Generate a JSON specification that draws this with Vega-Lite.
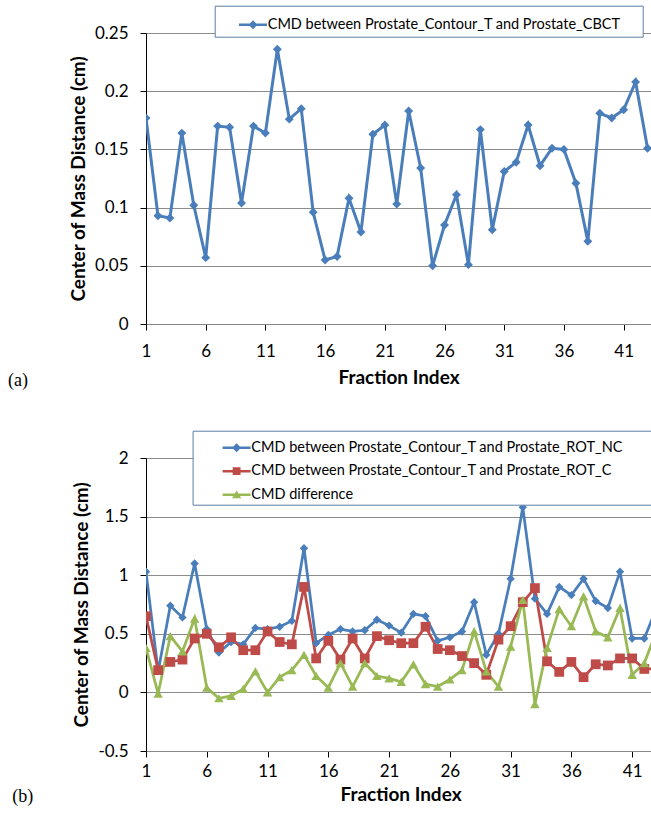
{
  "$schema": "https://vega.github.io/schema/vega-lite/v6.json",
  "background": "white",
  "padding": {"left": 8, "top": 5, "right": 0, "bottom": 0},
  "spacing": 40,
  "config": {
    "view": {"stroke": null},
    "font": "Lato",
    "axis": {
      "labelFont": "Lato", "titleFont": "Lato", "titleFontWeight": "bold",
      "titleColor": "#000", "labelColor": "#000", "domainColor": "#000", "domainWidth": 1,
      "tickColor": "#000", "tickSize": 6, "gridColor": "#8c8c8c", "gridWidth": 1,
      "labelFontSize": 17, "titleFontSize": 19, "labelFlush": false, "labelOverlap": false
    },
    "legend": {
      "orient": "none", "strokeColor": "#5b7fa6", "fillColor": "white",
      "labelFont": "Lato", "labelFontSize": 14.5, "labelColor": "#000", "labelLimit": 600,
      "symbolSize": 784
    }
  },
  "resolve": {"scale": {"color": "independent"}, "legend": {"color": "independent"}},
  "vconcat": [
    {
      "width": 505,
      "height": 291,
      "title": {"text": "(a)", "orient": "bottom", "anchor": "start", "frame": "group", "font": "Liberation Serif", "fontSize": 18, "fontWeight": "normal", "color": "#000", "dx": -138, "dy": -15.5, "offset": 0},
      "data": {"values": [
        {"i": 1, "v": 0.177}, {"i": 2, "v": 0.093}, {"i": 3, "v": 0.091}, {"i": 4, "v": 0.164},
        {"i": 5, "v": 0.102}, {"i": 6, "v": 0.057}, {"i": 7, "v": 0.170}, {"i": 8, "v": 0.169},
        {"i": 9, "v": 0.104}, {"i": 10, "v": 0.170}, {"i": 11, "v": 0.164}, {"i": 12, "v": 0.236},
        {"i": 13, "v": 0.176}, {"i": 14, "v": 0.185}, {"i": 15, "v": 0.096}, {"i": 16, "v": 0.055},
        {"i": 17, "v": 0.058}, {"i": 18, "v": 0.108}, {"i": 19, "v": 0.079}, {"i": 20, "v": 0.163},
        {"i": 21, "v": 0.171}, {"i": 22, "v": 0.103}, {"i": 23, "v": 0.183}, {"i": 24, "v": 0.134},
        {"i": 25, "v": 0.050}, {"i": 26, "v": 0.085}, {"i": 27, "v": 0.111}, {"i": 28, "v": 0.051},
        {"i": 29, "v": 0.167}, {"i": 30, "v": 0.081}, {"i": 31, "v": 0.131}, {"i": 32, "v": 0.139},
        {"i": 33, "v": 0.171}, {"i": 34, "v": 0.136}, {"i": 35, "v": 0.151}, {"i": 36, "v": 0.150},
        {"i": 37, "v": 0.121}, {"i": 38, "v": 0.071}, {"i": 39, "v": 0.181}, {"i": 40, "v": 0.177},
        {"i": 41, "v": 0.184}, {"i": 42, "v": 0.208}, {"i": 43, "v": 0.151}
      ]},
      "encoding": {
        "x": {"field": "i", "type": "quantitative",
          "scale": {"domain": [1, 43.29], "nice": false, "zero": false},
          "axis": {"values": [1, 6, 11, 16, 21, 26, 31, 36, 41], "grid": false, "title": "Fraction Index",
            "labelPadding": 13, "titlePadding": 9, "domainColor": "#868686", "format": "d"}},
        "y": {"field": "v", "type": "quantitative",
          "scale": {"domain": [0, 0.25], "nice": false, "zero": false},
          "axis": {"values": [0, 0.05, 0.1, 0.15, 0.2, 0.25], "labelExpr": "'' + datum.value", "grid": true,
            "title": "Center of Mass Distance (cm)", "labelPadding": 12, "titlePadding": 6}}
      },
      "layer": [
        {
          "mark": {"type": "line", "strokeWidth": 3, "clip": true},
          "encoding": {
            "color": {"datum": "CMD between Prostate_Contour_T and Prostate_CBCT", "type": "nominal",
              "scale": {"range": ["#4A7EBB"]},
              "legend": {"title": null, "legendX": 68.7, "legendY": -27.3, "padding": 5, "labelOffset": 20,
                "encode": {"symbols": {"update": {
                  "shape": {"value": "M28.8,0L28.8,0M0.379,-0.09H2.379V0.09H0.379Z M1.379,-0.32L1.699,0L1.379,0.32L1.059,0Z"},
                  "fill": {"value": "#4A7EBB"}, "strokeWidth": {"value": 0},
                  "size": {"value": 784}, "opacity": {"value": 1}}}}}}
          }
        },
        {
          "mark": {"type": "point", "shape": "diamond", "filled": true, "size": 80, "opacity": 1, "color": "#4A7EBB", "clip": true}
        }
      ]
    },
    {
      "width": 509,
      "height": 293,
      "title": {"text": "(b)", "orient": "bottom", "anchor": "start", "frame": "group", "font": "Liberation Serif", "fontSize": 18, "fontWeight": "normal", "color": "#000", "dx": -133.7, "dy": -17, "offset": 0},
      "data": {"values": [
        {"i": 1, "nc": 1.03, "c": 0.65, "d": 0.38},
        {"i": 2, "nc": 0.18, "c": 0.19, "d": -0.01},
        {"i": 3, "nc": 0.74, "c": 0.26, "d": 0.48},
        {"i": 4, "nc": 0.64, "c": 0.28, "d": 0.35},
        {"i": 5, "nc": 1.10, "c": 0.46, "d": 0.63},
        {"i": 6, "nc": 0.54, "c": 0.50, "d": 0.04},
        {"i": 7, "nc": 0.34, "c": 0.385, "d": -0.05},
        {"i": 8, "nc": 0.43, "c": 0.47, "d": -0.03},
        {"i": 9, "nc": 0.41, "c": 0.36, "d": 0.03},
        {"i": 10, "nc": 0.55, "c": 0.36, "d": 0.18},
        {"i": 11, "nc": 0.54, "c": 0.52, "d": 0.00},
        {"i": 12, "nc": 0.56, "c": 0.43, "d": 0.13},
        {"i": 13, "nc": 0.61, "c": 0.41, "d": 0.19},
        {"i": 14, "nc": 1.23, "c": 0.90, "d": 0.32},
        {"i": 15, "nc": 0.42, "c": 0.29, "d": 0.14},
        {"i": 16, "nc": 0.49, "c": 0.44, "d": 0.04},
        {"i": 17, "nc": 0.54, "c": 0.28, "d": 0.25},
        {"i": 18, "nc": 0.52, "c": 0.46, "d": 0.05},
        {"i": 19, "nc": 0.53, "c": 0.29, "d": 0.25},
        {"i": 20, "nc": 0.62, "c": 0.48, "d": 0.14},
        {"i": 21, "nc": 0.57, "c": 0.445, "d": 0.12},
        {"i": 22, "nc": 0.51, "c": 0.42, "d": 0.09},
        {"i": 23, "nc": 0.67, "c": 0.42, "d": 0.24},
        {"i": 24, "nc": 0.65, "c": 0.56, "d": 0.07},
        {"i": 25, "nc": 0.44, "c": 0.37, "d": 0.05},
        {"i": 26, "nc": 0.47, "c": 0.36, "d": 0.11},
        {"i": 27, "nc": 0.52, "c": 0.31, "d": 0.19},
        {"i": 28, "nc": 0.77, "c": 0.25, "d": 0.52},
        {"i": 29, "nc": 0.32, "c": 0.15, "d": 0.18},
        {"i": 30, "nc": 0.50, "c": 0.45, "d": 0.05},
        {"i": 31, "nc": 0.97, "c": 0.565, "d": 0.39},
        {"i": 32, "nc": 1.58, "c": 0.77, "d": 0.79},
        {"i": 33, "nc": 0.80, "c": 0.89, "d": -0.10},
        {"i": 34, "nc": 0.67, "c": 0.265, "d": 0.38},
        {"i": 35, "nc": 0.90, "c": 0.175, "d": 0.71},
        {"i": 36, "nc": 0.83, "c": 0.26, "d": 0.565},
        {"i": 37, "nc": 0.97, "c": 0.13, "d": 0.82},
        {"i": 38, "nc": 0.78, "c": 0.24, "d": 0.52},
        {"i": 39, "nc": 0.72, "c": 0.23, "d": 0.47},
        {"i": 40, "nc": 1.03, "c": 0.29, "d": 0.72},
        {"i": 41, "nc": 0.46, "c": 0.29, "d": 0.15},
        {"i": 42, "nc": 0.46, "c": 0.20, "d": 0.25},
        {"i": 43, "nc": 0.72, "c": 0.20, "d": 0.52}
      ]},
      "transform": [{"fold": ["nc", "c", "d"], "as": ["s", "v"]}],
      "encoding": {
        "x": {"field": "i", "type": "quantitative",
          "scale": {"domain": [1, 42.88], "nice": false, "zero": false},
          "axis": {"values": [1, 6, 11, 16, 21, 26, 31, 36, 41], "grid": false, "title": "Fraction Index",
            "labelPadding": 6, "titlePadding": 6.5, "domainColor": "#868686", "format": "d"}},
        "y": {"field": "v", "type": "quantitative",
          "scale": {"domain": [-0.5, 2], "nice": false, "zero": false},
          "axis": {"values": [-0.5, 0, 0.5, 1, 1.5, 2], "labelExpr": "'' + datum.value", "grid": true,
            "title": "Center of Mass Distance (cm)", "labelPadding": 12, "titlePadding": 6}}
      },
      "layer": [
        {
          "mark": {"type": "line", "strokeWidth": 2.75, "clip": true},
          "encoding": {
            "color": {"field": "s", "type": "nominal",
              "scale": {"domain": ["nc", "c", "d"], "range": ["#4A7EBB", "#BE4B48", "#98B954"]},
              "legend": {"title": null, "legendX": 46.6, "legendY": -27.3, "padding": 3, "rowPadding": 2.5, "labelOffset": 27.7,
                "labelExpr": "datum.value === 'nc' ? 'CMD between Prostate_Contour_T and Prostate_ROT_NC' : datum.value === 'c' ? 'CMD between Prostate_Contour_T and Prostate_ROT_C' : 'CMD difference'",
                "encode": {"symbols": {"update": {
                  "shape": {"signal": "datum.value === 'nc' ? 'M31.36,0L31.36,0M0.929,-0.09H2.929V0.09H0.929Z M1.929,-0.32L2.249,0L1.929,0.32L1.609,0Z' : datum.value === 'c' ? 'M0.929,-0.09H2.929V0.09H0.929Z M1.649,-0.28H2.209V0.28H1.649Z' : 'M0.929,-0.09H2.929V0.09H0.929Z M1.929,-0.3L2.259,0.26L1.599,0.26Z'"},
                  "fill": {"signal": "datum.value === 'nc' ? '#4A7EBB' : datum.value === 'c' ? '#BE4B48' : '#98B954'"},
                  "strokeWidth": {"value": 0}, "size": {"value": 784}, "opacity": {"value": 1}}}}}}
          }
        },
        {
          "transform": [{"filter": "datum.s === 'nc'"}],
          "mark": {"type": "point", "shape": "diamond", "filled": true, "size": 70, "opacity": 1, "color": "#4A7EBB", "clip": true}
        },
        {
          "transform": [{"filter": "datum.s === 'c'"}],
          "mark": {"type": "point", "shape": "square", "filled": true, "size": 95, "opacity": 1, "color": "#BE4B48", "clip": true}
        },
        {
          "transform": [{"filter": "datum.s === 'd'"}],
          "mark": {"type": "point", "shape": "triangle-up", "filled": true, "size": 90, "opacity": 1, "color": "#98B954", "clip": true}
        }
      ]
    }
  ]
}
